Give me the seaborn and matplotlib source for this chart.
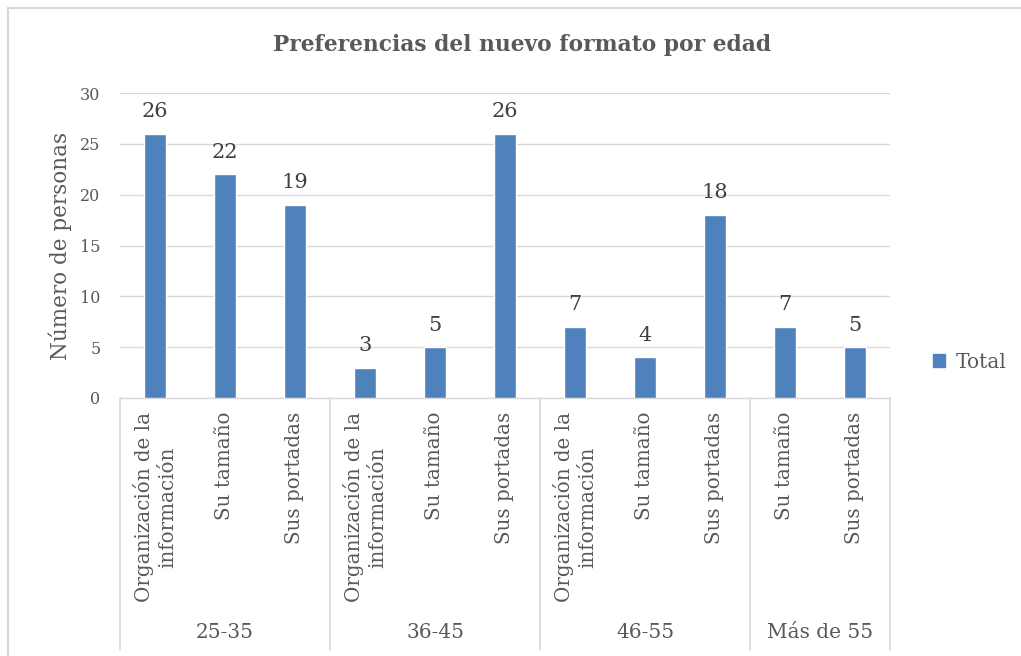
import matplotlib
matplotlib.use("Agg")
import matplotlib.pyplot as plt
import seaborn as sns
import pandas as pd
from matplotlib.patches import Rectangle
from matplotlib.lines import Line2D

groups = ["25-35", "36-45", "46-55", "Más de 55"]
group_items = [
    ["Organización de la\ninformación", "Su tamaño", "Sus portadas"],
    ["Organización de la\ninformación", "Su tamaño", "Sus portadas"],
    ["Organización de la\ninformación", "Su tamaño", "Sus portadas"],
    ["Su tamaño", "Sus portadas"],
]
values = [26, 22, 19, 3, 5, 26, 7, 4, 18, 7, 5]

rows = []
k = 0
for g, items in zip(groups, group_items):
    for it in items:
        rows.append({"key": f"{k}", "grupo": g, "categoria": it, "Total": values[k]})
        k += 1
df = pd.DataFrame(rows)

sns.set_theme(style="white")
plt.rcParams["font.family"] = ["DejaVu Serif"]

BAR = "#4F81BD"
GRAY = "#595959"
GRID = "#D9D9D9"

W, H = 1021, 656
fig = plt.figure(figsize=(W / 100, H / 100), dpi=100)
ax = fig.add_axes([120 / W, 1 - 398 / H, (890 - 120) / W, (398 - 93) / H])

sns.barplot(data=df, x="key", y="Total", color=BAR, width=0.32, ax=ax,
            saturation=1, errorbar=None, zorder=3)

ax.set_ylim(0, 30)
ax.set_xlim(-0.5, len(values) - 0.5)
ax.set_yticks(range(0, 31, 5))
ax.yaxis.grid(True, color=GRID, linewidth=1, zorder=0)
for s in ["top", "right", "left"]:
    ax.spines[s].set_visible(False)
ax.spines["bottom"].set_color(GRID)
ax.spines["bottom"].set_linewidth(1)
ax.tick_params(axis="y", length=0, pad=14, labelsize=11.5, labelcolor=GRAY)
ax.tick_params(axis="x", length=0, pad=10, labelsize=14.3, labelcolor=GRAY)
ax.set_xticks(range(len(values)))
ax.set_xticklabels(df["categoria"], rotation=90, va="top", ha="center",
                   multialignment="center", linespacing=1.3)
ax.set_xlabel("")
ax.set_ylabel("Número de personas", fontsize=15.5, color=GRAY, labelpad=6)

for c in ax.containers:
    ax.bar_label(c, padding=9, fontsize=15, color="#404040")

# group separators and labels
trans = ax.get_xaxis_transform()
bounds = [-0.5]
pos = -0.5
for items in group_items:
    pos += len(items)
    bounds.append(pos)
y_bot = -(650 - 398) / (398 - 93)
for b in bounds:
    ax.add_line(Line2D([b, b], [0, y_bot], transform=trans, color=GRID,
                       linewidth=1.2, clip_on=False))
y_lab = -(633 - 398) / (398 - 93)
for i, g in enumerate(groups):
    xc = (bounds[i] + bounds[i + 1]) / 2
    ax.text(xc, y_lab, g, transform=trans, ha="center", va="center",
            fontsize=14.5, color=GRAY)

fig.text(522 / W, 1 - 45 / H, "Preferencias del nuevo formato por edad",
         ha="center", va="center", fontsize=15.7, fontweight="bold", color=GRAY)

# legend
handle = Rectangle((0, 0), 1, 1, color=BAR)
fig.legend([handle], ["Total"], loc="center left",
           bbox_to_anchor=(915 / W, 1 - 362 / H), frameon=False,
           fontsize=14.5, handlelength=0.6, handleheight=0.6, handletextpad=0.5,
           labelcolor=GRAY)

# chart border
fig.add_artist(Rectangle((8 / W, -0.05), 1.1, 1 - 8 / H + 0.05,
                         transform=fig.transFigure, fill=False,
                         edgecolor=GRID, linewidth=1.5))

fig.savefig("out.png", dpi=100, facecolor="white")
